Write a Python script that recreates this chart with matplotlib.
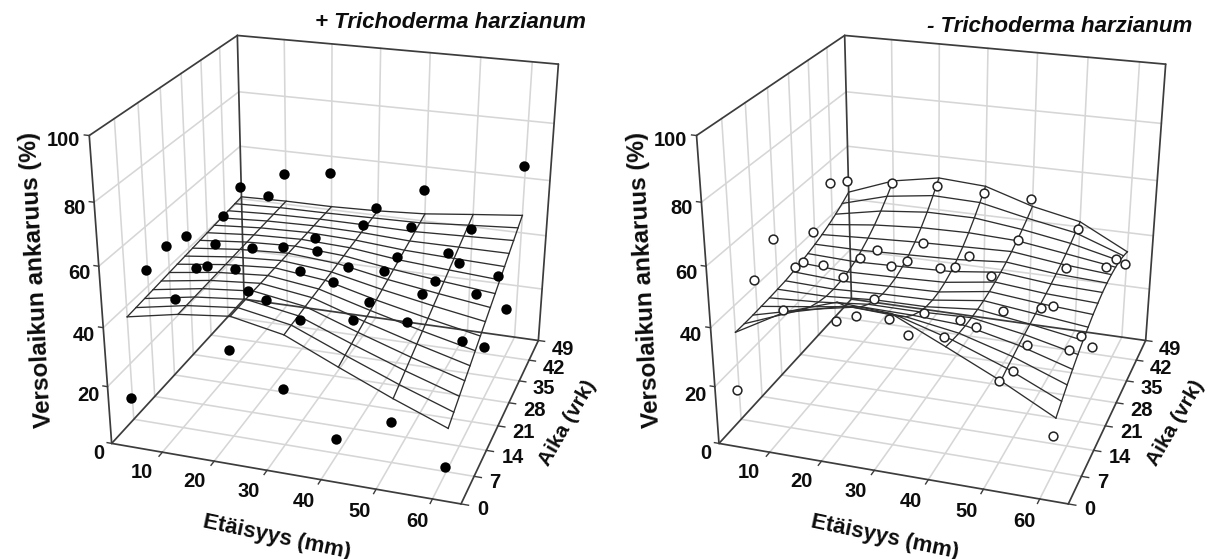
import numpy as np
import matplotlib
matplotlib.use('Agg')
import matplotlib.pyplot as plt

# ---------- data ----------
distance = [0, 10, 20, 30, 40, 50, 60]
distance_obs = [-0.35, 9.65, 19.65, 29.65, 39.65, 49.65, 59.65]
time_obs = [7, 14, 21, 28, 35, 42, 49]
time_fit = [7, 9.8, 12.6, 15.4, 18.2, 21, 23.8, 26.6, 29.4, 32.2, 35, 37.8, 40.6, 43.4, 46.2, 49]
dist_ticks = [10, 20, 30, 40, 50, 60]
time_ticks = [0, 7, 14, 21, 28, 35, 42, 49]
sev_ticks = [0, 20, 40, 60, 80, 100]

with_obs = [
    [7.5, 44.8, 30.0, 19.4, 5.2, 13.9, 1.4],
    [45.4, 48.4, 42.8, 52.1, 38.0, 40.0, 36.4],
    [47.1, 49.9, 32.9, 52.2, 37.1, 42.4, 44.8],
    [44.4, 34.7, 44.8, 34.7, 41.1, 39.7, 19.1],
    [26.6, 35.8, 11.1, 33.5, 39.4, 43.1, 37.1],
    [39.4, 49.0, 35.5, 42.6, 44.0, 32.9, 18.3],
    [44.4, 51.6, 53.9, 42.6, 51.6, 39.3, 64.1],
]
without_obs = [
    [10.6, 41.2, 39.8, 43.3, 40.0, 27.8, 12.4],
    [42.0, 50.4, 34.4, 55.5, 38.2, 23.2, 33.1],
    [49.6, 42.8, 33.2, 30.7, 28.2, 24.5, 30.3],
    [32.9, 31.6, 38.2, 39.7, 39.3, 30.2, 19.1],
    [39.5, 32.2, 5.2, 33.4, 19.4, 23.8, 40.6],
    [51.8, 28.7, 33.5, 31.0, 39.2, 31.0, 36.8],
    [46.7, 48.1, 49.0, 48.2, 48.2, 39.2, 28.2],
]
with_fit = [
    [36.3, 39.7, 41.6, 38.0, 29.9, 22.1, 15.0],
    [36.6, 39.8, 41.6, 38.3, 30.8, 23.6, 17.1],
    [36.9, 39.9, 41.6, 38.5, 31.6, 25.1, 19.2],
    [37.2, 40.0, 41.6, 38.8, 32.5, 26.6, 21.3],
    [37.5, 40.1, 41.5, 39.0, 33.3, 28.1, 23.3],
    [37.8, 40.2, 41.5, 39.2, 34.2, 29.6, 25.4],
    [38.1, 40.3, 41.5, 39.5, 35.0, 31.1, 27.5],
    [38.4, 40.4, 41.4, 39.7, 35.9, 32.6, 29.6],
    [38.7, 40.5, 41.4, 40.0, 36.7, 34.1, 31.7],
    [39.0, 40.6, 41.4, 40.2, 37.6, 35.6, 33.8],
    [39.3, 40.7, 41.3, 40.5, 38.4, 37.1, 35.9],
    [39.6, 40.8, 41.3, 40.7, 39.3, 38.6, 38.0],
    [39.9, 40.9, 41.3, 41.0, 40.1, 40.1, 40.1],
    [40.2, 41.0, 41.3, 41.2, 41.0, 41.6, 42.2],
    [40.5, 41.1, 41.2, 41.5, 41.8, 43.1, 44.3],
    [40.8, 41.2, 41.2, 41.7, 42.7, 44.6, 46.4],
]
without_fit = [
    [31.0, 40.5, 46.3, 45.1, 36.7, 28.1, 18.5],
    [31.0, 37.7, 42.2, 41.3, 35.9, 29.1, 20.8],
    [31.1, 35.5, 38.9, 38.2, 35.2, 29.9, 23.1],
    [31.3, 33.7, 36.2, 35.8, 34.8, 30.7, 25.2],
    [31.5, 32.5, 34.2, 34.1, 34.6, 31.4, 27.2],
    [31.8, 31.7, 32.9, 33.0, 34.6, 32.0, 29.0],
    [32.1, 31.5, 32.2, 32.5, 34.8, 32.7, 30.6],
    [32.7, 31.7, 32.2, 32.6, 35.2, 33.4, 32.1],
    [33.3, 32.3, 32.7, 33.3, 35.8, 34.1, 33.2],
    [34.1, 33.4, 33.9, 34.5, 36.6, 34.8, 34.2],
    [35.0, 35.0, 35.6, 36.2, 37.6, 35.7, 34.8],
    [36.1, 37.0, 37.8, 38.3, 38.8, 36.6, 35.1],
    [37.4, 39.4, 40.6, 40.9, 40.2, 37.7, 35.1],
    [38.9, 42.2, 43.9, 43.9, 41.8, 38.9, 34.8],
    [40.6, 45.4, 47.7, 47.2, 43.5, 40.3, 34.0],
    [42.6, 48.9, 52.0, 50.9, 45.5, 41.9, 32.9],
]
titles = ['+ Trichoderma harzianum', '- Trichoderma harzianum']

# ---------- layout: box extents and view calibration ----------
W_PX, H_PX = 1208, 559
XMAX, YMAX, ZMAX = 65, 49, 100
PANEL_SHIFT = 607.3
CAL = [(0, 0, 100, 89.3, 135), (0, 49, 100, 236.7, 35.7), (65, 49, 100, 558.3, 64),
       (0, 0, 0, 112.7, 443.3), (65, 0, 0, 460, 503.3), (65, 49, 0, 539.3, 344),
       (0, 49, 0, 243, 298), (10, 0, 0, 162.3, 452), (20, 0, 0, 214, 461),
       (30, 0, 0, 266.7, 471), (40, 0, 0, 320, 481), (50, 0, 0, 375, 490.5),
       (60, 0, 0, 430, 498), (0, 0, 80, 93.5, 202.7), (0, 0, 60, 100, 266),
       (0, 0, 40, 104, 328), (0, 0, 20, 108.5, 387), (65, 7, 0, 476.7, 477),
       (65, 28, 0, 510, 398)]


def view_matrix(shift):
    """Projective view of the box, in normalised device coordinates."""
    rows = []
    for x, y, z, u, v in CAL:
        X = [x / XMAX, y / YMAX, z / ZMAX, 1.0]
        u = 2 * (u + shift) / W_PX - 1
        v = 1 - 2 * v / H_PX
        rows.append(X + [0] * 4 + [-u * a for a in X])
        rows.append([0] * 4 + X + [-v * a for a in X])
    P = np.linalg.svd(np.array(rows))[2][-1].reshape(3, 4)
    P = P / P[2, 3]
    P = P @ np.diag([1 / XMAX, 1 / YMAX, 1 / ZMAX, 1.0])
    depth = -0.5 * P[2] - 0.2 * np.array([0, 1 / YMAX, 0, 0])
    return np.vstack([P[0], P[1], depth, P[2]])


plt.rcParams['font.family'] = ['Liberation Sans', 'DejaVu Sans']
fig = plt.figure(figsize=(W_PX / 100, H_PX / 100), dpi=100, facecolor='white')

GRID = '#d6d6d6'
FRAME = '#3c3c3c'
WIRE = '#2e2e2e'
TXT = '#0d0d0d'


def panel(shift, obs, fit, title, title_xy, filled):
    ax = fig.add_axes([0, 0, 1, 1], projection='3d', computed_zorder=False)
    M = view_matrix(shift)
    ax.get_proj = lambda: M
    ax.apply_aspect = lambda position=None: None
    ax.set_axis_off()
    ax.patch.set_visible(False)
    ax.viewLim.intervalx = (-1, 1)
    ax.viewLim.intervaly = (-1, 1)

    g = dict(color=GRID, lw=1.15, zorder=1)
    for x in dist_ticks:
        ax.plot([x, x], [0, YMAX], [0, 0], **g)
        ax.plot([x, x], [YMAX, YMAX], [0, ZMAX], **g)
    for t in time_ticks[1:-1]:
        ax.plot([0, XMAX], [t, t], [0, 0], **g)
        ax.plot([0, 0], [t, t], [0, ZMAX], **g)
    for z in sev_ticks[1:-1]:
        ax.plot([0, 0], [0, YMAX], [z, z], **g)
        ax.plot([0, XMAX], [YMAX, YMAX], [z, z], **g)

    f = dict(color=FRAME, lw=1.25, zorder=2, solid_capstyle='round')
    edges = [((0, XMAX), (0, 0), (0, 0)), ((XMAX, XMAX), (0, YMAX), (0, 0)),
             ((0, XMAX), (YMAX, YMAX), (0, 0)), ((0, 0), (0, YMAX), (0, 0)),
             ((0, 0), (0, 0), (0, ZMAX)), ((0, 0), (YMAX, YMAX), (0, ZMAX)),
             ((XMAX, XMAX), (YMAX, YMAX), (0, ZMAX)),
             ((0, 0), (0, YMAX), (ZMAX, ZMAX)), ((0, XMAX), (YMAX, YMAX), (ZMAX, ZMAX))]
    for ex, ey, ez in edges:
        ax.plot(ex, ey, ez, **f)

    # ticks and tick labels
    tk = dict(color=FRAME, lw=1.0, zorder=2)
    lab = dict(fontsize=14.5, fontweight='bold', color=TXT)
    for x in dist_ticks:
        ax.plot([x, x], [0, -1.1], [0, 0], **tk)
        ax.text(x - 0.6, -5.6, 0, str(x), ha='center', va='center', rotation=-6, **lab)
    for t in time_ticks:
        ax.plot([XMAX, XMAX + 1.3], [t, t], [0, 0], **tk)
        ax.text(XMAX + 2.8, t, -1 - 0.035 * t, str(t), ha='left', va='center', **lab)
    for z in sev_ticks:
        ax.plot([0, -0.9], [0, 0], [z, z], **tk)
        ax.text(-1.7, 0, z - 4 + 0.023 * z, str(z), ha='right', va='center', **lab)

    # fitted surface
    w = dict(color=WIRE, lw=0.95, zorder=3)
    fit = np.array(fit)
    for i, t in enumerate(time_fit):
        ax.plot(distance, [t] * len(distance), fit[i], **w)
    for j, x in enumerate(distance):
        ax.plot([x] * len(time_fit), time_fit, fit[:, j], **w)

    # observations
    D, T = np.meshgrid(distance_obs, time_obs)
    if filled:
        ax.scatter(D.ravel(), T.ravel(), np.array(obs).ravel(), s=56, c='black',
                   edgecolors='black', linewidths=0, depthshade=False, zorder=4)
    else:
        ax.scatter(D.ravel(), T.ravel(), np.array(obs).ravel(), s=40, c='white',
                   edgecolors='#222222', linewidths=1.1, depthshade=False, zorder=4)

    big = dict(fontweight='bold', color=TXT, ha='center', va='center', rotation_mode='anchor')
    fig.text((37 + shift) / W_PX, 1 - 280 / H_PX, 'Versolaikun ankaruus (%)',
             rotation=93, fontsize=17.5, **big)
    fig.text((277 + shift) / W_PX, 1 - 537 / H_PX, 'Etäisyys (mm)', rotation=-12, fontsize=16, **big)
    fig.text((568 + shift) / W_PX, 1 - 423 / H_PX, 'Aika (vrk)', rotation=60, fontsize=15, **big)
    fig.text(title_xy[0] / W_PX, 1 - title_xy[1] / H_PX, title, fontsize=16, fontweight='bold',
             fontstyle='italic', color=TXT, ha='center', va='center')
    return ax


panel(0, with_obs, with_fit, titles[0], (450, 22), True)
panel(PANEL_SHIFT, without_obs, without_fit, titles[1], (1060, 26), False)

fig.savefig('out.png', dpi=100)
